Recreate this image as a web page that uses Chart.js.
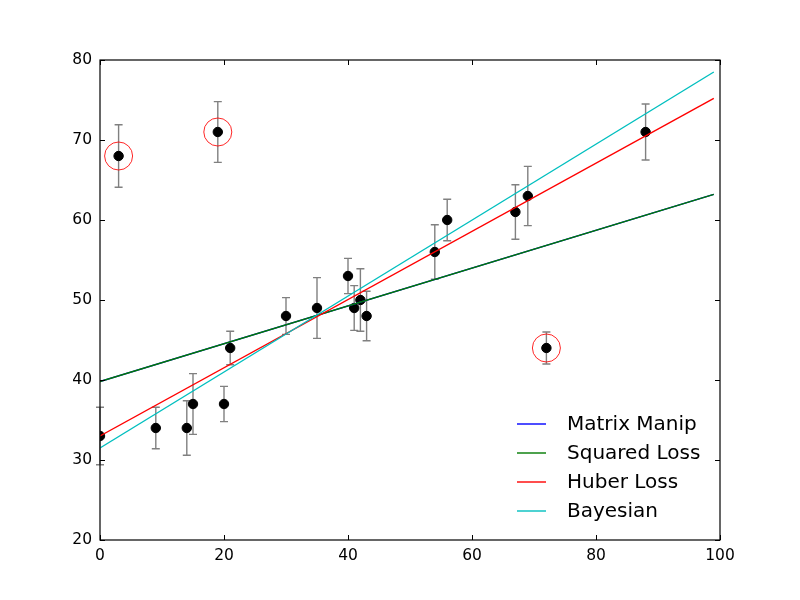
<!DOCTYPE html>
<html lang="en">
<head>
    <meta charset="UTF-8">
    <script src="https://cdnjs.cloudflare.com/ajax/libs/Chart.js/4.4.1/chart.umd.min.js"></script>
    <title>Fits</title>
    <style>
        body { margin: 0; background: #fff; }
    </style>
</head>
<body>
    <canvas id="myChart" width="800" height="600"></canvas>
    <script>
        // data points with errors
        const xData = [0, 3, 9, 14, 15, 19, 20, 21, 30, 35, 40, 41, 42, 43, 54, 56, 67, 69, 72, 88];
        const yData = [33, 68, 34, 34, 37, 71, 37, 44, 48, 49, 53, 49, 50, 48, 56, 60, 61, 63, 44, 71];
        const errData = [3.6, 3.9, 2.6, 3.4, 3.8, 3.8, 2.2, 2.1, 2.3, 3.8, 2.2, 2.8, 3.9, 3.1, 3.4, 2.6, 3.4, 3.7, 2.0, 3.5];
        const outlierIdx = [1, 5, 18];

        // fitted lines, read at the two ends
        const lineX = [0, 99];
        const matrixY = [39.8, 63.2];
        const squaredY = [39.8, 63.2];
        const huberY = [33.0, 75.2];
        const bayesY = [31.5, 78.5];

        const xTicks = [0, 20, 40, 60, 80, 100];
        const yTicks = [20, 30, 40, 50, 60, 70, 80];

        const legendNames = ["Matrix Manip", "Squared Loss", "Huber Loss", "Bayesian"];
        const legendColors = ["#0000ff", "#007a00", "#ff0000", "#00bfbf"];

        var f_pts = function (xs, ys) {
            return xs.map(function (v, i) { return { x: v, y: ys[i] }; });
        };
        var f_line = function (label, ys, color, order) {
            return {
                type: 'line', label: label, data: f_pts(lineX, ys),
                borderColor: color, borderWidth: 1.4, pointRadius: 0,
                fill: false, order: order
            };
        };

        // error bars under the points
        const errorBars = {
            id: 'errorBars',
            beforeDatasetsDraw(chart) {
                const c = chart.ctx, xs = chart.scales.x, ys = chart.scales.y;
                c.save();
                c.strokeStyle = '#808080';
                c.lineWidth = 1.4;
                for (var i = 0; i < xData.length; i++) {
                    var px = xs.getPixelForValue(xData[i]);
                    var lo = ys.getPixelForValue(yData[i] - errData[i]);
                    var hi = ys.getPixelForValue(yData[i] + errData[i]);
                    c.beginPath();
                    c.moveTo(px, lo); c.lineTo(px, hi);
                    c.moveTo(px - 4, lo); c.lineTo(px + 4, lo);
                    c.moveTo(px - 4, hi); c.lineTo(px + 4, hi);
                    c.stroke();
                }
                c.restore();
            }
        };

        // frame, inward ticks on all four sides, legend
        const frame = {
            id: 'frame',
            afterDraw(chart) {
                const c = chart.ctx, a = chart.chartArea;
                const xs = chart.scales.x, ys = chart.scales.y;
                c.save();
                c.strokeStyle = '#000';
                c.lineWidth = 1.2;
                c.strokeRect(a.left, a.top, a.right - a.left, a.bottom - a.top);
                c.lineWidth = 1;
                c.beginPath();
                xTicks.forEach(function (t) {
                    var p = Math.round(xs.getPixelForValue(t)) + 0.5;
                    c.moveTo(p, a.bottom); c.lineTo(p, a.bottom - 5);
                    c.moveTo(p, a.top); c.lineTo(p, a.top + 5);
                });
                yTicks.forEach(function (t) {
                    var p = Math.round(ys.getPixelForValue(t)) + 0.5;
                    c.moveTo(a.left, p); c.lineTo(a.left + 5, p);
                    c.moveTo(a.right, p); c.lineTo(a.right - 5, p);
                });
                c.stroke();

                // legend
                c.font = '20px "DejaVu Sans"';
                c.textBaseline = 'middle';
                c.fillStyle = '#000';
                for (var i = 0; i < legendNames.length; i++) {
                    var ly = 424 + i * 29;
                    c.strokeStyle = legendColors[i];
                    c.lineWidth = 1.4;
                    c.beginPath();
                    c.moveTo(517, ly); c.lineTo(546, ly);
                    c.stroke();
                    c.fillText(legendNames[i], 567, ly + 1);
                }
                c.restore();
            }
        };

        const ctx = document.getElementById('myChart').getContext('2d');
        const myChart = new Chart(ctx, {
            type: 'scatter',
            data: {
                datasets: [
                    {
                        label: 'data', data: f_pts(xData, yData),
                        backgroundColor: '#000', borderColor: '#000',
                        pointRadius: 4.7, pointHoverRadius: 4.7, order: 5
                    },
                    {
                        label: 'outliers',
                        data: outlierIdx.map(function (i) { return { x: xData[i], y: yData[i] }; }),
                        backgroundColor: 'rgba(0,0,0,0)', borderColor: 'rgba(255,0,0,0.85)',
                        borderWidth: 1, pointRadius: 14, order: 6
                    },
                    f_line('Matrix Manip', matrixY, legendColors[0], 4),
                    f_line('Squared Loss', squaredY, legendColors[1], 3),
                    f_line('Huber Loss', huberY, legendColors[2], 2),
                    f_line('Bayesian', bayesY, legendColors[3], 1)
                ]
            },
            options: {
                responsive: false,
                animation: false,
                layout: { padding: { top: 60, right: 80, left: 0, bottom: 0 } },
                plugins: { legend: { display: false }, tooltip: { enabled: false } },
                scales: {
                    x: {
                        type: 'linear', min: 0, max: 100,
                        grid: { display: false, drawTicks: false },
                        border: { display: false },
                        afterFit: function (s) { s.height = 60; },
                        afterBuildTicks: function (s) { s.ticks = xTicks.map(function (v) { return { value: v }; }); },
                        ticks: { padding: 7, color: '#000', maxRotation: 0, font: { family: 'DejaVu Sans', size: 15.5 } }
                    },
                    y: {
                        type: 'linear', min: 20, max: 80,
                        grid: { display: false, drawTicks: false },
                        border: { display: false },
                        afterFit: function (s) { s.width = 100; },
                        afterBuildTicks: function (s) { s.ticks = yTicks.map(function (v) { return { value: v }; }); },
                        ticks: { padding: 8, color: '#000', font: { family: 'DejaVu Sans', size: 15.5 } }
                    }
                }
            },
            plugins: [errorBars, frame]
        });
    </script>
</body>
</html>
